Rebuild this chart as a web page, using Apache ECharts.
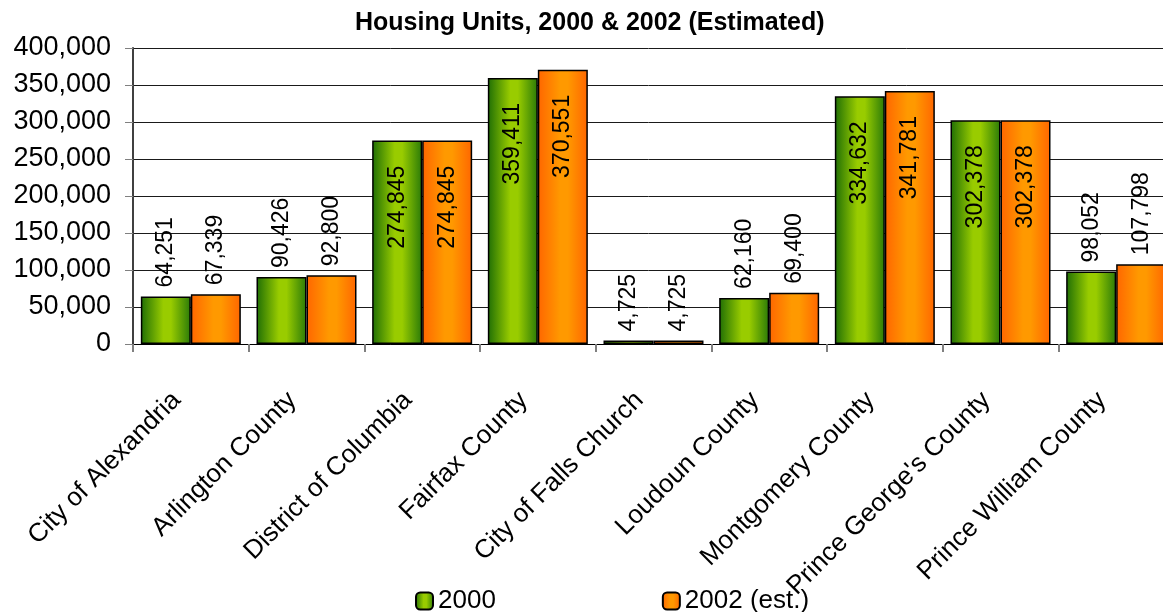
<!DOCTYPE html>
<html>
<head>
<meta charset="utf-8">
<script src="https://cdn.jsdelivr.net/npm/echarts@6/dist/echarts.min.js"></script>
<style>
html,body{margin:0;padding:0;background:#fff;}
#chart{width:1163px;height:612px;}
</style>
</head>
<body>
<div id="chart"></div>
<script>
const categories = ["City of Alexandria","Arlington County","District of Columbia","Fairfax County","City of Falls Church","Loudoun County","Montgomery County","Prince George's County","Prince William County"];
const units2000 = [64251, 90426, 274845, 359411, 4725, 62160, 334632, 302378, 98052];
const units2002 = [67339, 92800, 274845, 370551, 4725, 69400, 341781, 302378, 107798];
const seriesNames = ["2000", "2002 (est.)"];
const yTicks = [0, 50000, 100000, 150000, 200000, 250000, 300000, 350000, 400000];

function fmt(v){ return String(v).replace(/\B(?=(\d{3})+(?!\d))/g, ','); }

const chart = echarts.init(document.getElementById('chart'), null, {renderer:'canvas'});
const NUM_FONT = 'Liberation Sans, Arial, sans-serif';

function labelFor(v){
  if (v > 200000) {
    return {show:true, position:'insideTop', distance:25, rotate:90, align:'right', verticalAlign:'middle',
      formatter:(p)=>fmt(p.value), color:'#000', fontFamily:NUM_FONT, fontSize:23};
  }
  return {show:true, position:'top', distance:9, rotate:90, align:'left', verticalAlign:'middle',
    formatter:(p)=>fmt(p.value), color:'#000', fontFamily:NUM_FONT, fontSize:23};
}

const greenGrad = new echarts.graphic.LinearGradient(0,0,1,0,[
  {offset:0,color:'#1f6e05'},{offset:0.45,color:'#99cc00'},{offset:0.6,color:'#99cc00'},{offset:1,color:'#2a7a08'}]);
const orangeGrad = new echarts.graphic.LinearGradient(0,0,1,0,[
  {offset:0,color:'#ff6600'},{offset:0.45,color:'#ff9900'},{offset:0.6,color:'#ff9900'},{offset:1,color:'#ff6600'}]);

chart.setOption({
  animation:false,
  backgroundColor:'#fff',
  title:{text:'Housing Units, 2000 & 2002 (Estimated)', left:350, top:6,
    textStyle:{fontFamily:NUM_FONT, fontWeight:'bold', fontSize:25, color:'#000'}},
  legend:{left:410, top:583, itemWidth:17, itemHeight:17, itemGap:166,
    data:seriesNames,
    textStyle:{fontFamily:NUM_FONT, fontSize:26, color:'#000'}},
  grid:{left:133, top:48, bottom:268, width:1041, containLabel:false, outerBoundsMode:'none'},
  xAxis:{type:'category', data:categories,
    axisLine:{show:true, lineStyle:{color:'#000', width:1}},
    axisTick:{show:true, alignWithLabel:false, length:8, lineStyle:{color:'#808080', width:2}},
    axisLabel:{interval:0, rotate:45, margin:38, padding:[0,20,0,0], color:'#000', fontFamily:NUM_FONT, fontSize:26}},
  yAxis:{type:'value', min:0, max:400000, interval:50000,
    axisLine:{show:true, lineStyle:{color:'#404040', width:2}},
    axisTick:{show:true, length:8, lineStyle:{color:'#808080', width:1}},
    splitLine:{show:true, lineStyle:{color:'#1a1a1a', width:1}},
    axisLabel:{margin:22, color:'#000', fontFamily:NUM_FONT, fontSize:27, formatter:(v)=>fmt(v)}},
  series:[
    {name:seriesNames[0], type:'bar', barWidth:50, barGap:'0%',
      itemStyle:{color:greenGrad, borderColor:'#000', borderWidth:1.5},
      data:units2000.map(v=>({value:v, label:labelFor(v)}))},
    {name:seriesNames[1], type:'bar', barWidth:50, barGap:'0%',
      itemStyle:{color:orangeGrad, borderColor:'#000', borderWidth:1.5},
      data:units2002.map(v=>({value:v, label:labelFor(v)}))}
  ]
});
</script>
</body>
</html>
